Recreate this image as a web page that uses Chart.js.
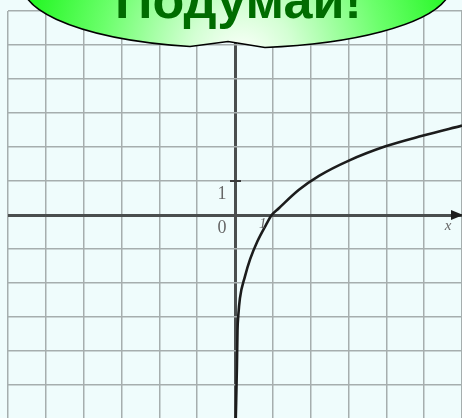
<!DOCTYPE html>
<html>
<head>
<meta charset="utf-8">
<script src="https://cdn.jsdelivr.net/npm/chart.js@4/dist/chart.umd.min.js"></script>
<style>
  html, body { margin: 0; padding: 0; overflow: hidden; background: #effcfc; }
  canvas { display: block; }
</style>
</head>
<body>
<canvas id="grafico" width="462" height="420"></canvas>
<script>
// punti (x, y)
var punti_x = [0.02, 0.05, 0.066, 0.087, 0.13, 0.26, 0.40, 0.59, 0.81, 0.97, 1.16, 1.69, 2.22, 3.01, 3.98, 4.95, 6.0];
var punti_y = [-6, -4.5, -3.4, -2.96, -2.45, -1.82, -1.3, -0.78, -0.31, 0, 0.2, 0.74, 1.15, 1.6, 2.02, 2.33, 2.63];
var limiti_x = [-6, 6];
var limiti_y = [-6, 6];
var testo_nuvola = 'Подумай!';

var dati = [];
for (var i = 0; i < punti_x.length; i++) {
  dati.push({x: punti_x[i], y: punti_y[i]});
}

function coloreGriglia(ctx) {
  return ctx.tick && ctx.tick.value === 0 ? '#4a4e4e' : '#a6aeae';
}
function spessoreGriglia(ctx) {
  return ctx.tick && ctx.tick.value === 0 ? 3 : 1.5;
}

// sfondo, etichette, freccia e nuvoletta
var decorazioni = {
  id: 'decorazioni',
  beforeDraw: function(chart) {
    var c = chart.ctx;
    c.save();
    c.fillStyle = '#effcfc';
    c.fillRect(0, 0, chart.width, chart.height);
    c.restore();
  },
  afterDraw: function(chart) {
    var c = chart.ctx;
    var sx = chart.scales.x;
    var sy = chart.scales.y;
    var x0 = sx.getPixelForValue(0);
    var y0 = sy.getPixelForValue(0);
    var y1 = sy.getPixelForValue(1);
    var x1 = sx.getPixelForValue(1);
    c.save();
    // tacca su y = 1
    c.strokeStyle = '#3a3a3a';
    c.lineWidth = 2;
    c.beginPath();
    c.moveTo(x0 - 5, y1);
    c.lineTo(x0 + 6, y1);
    c.stroke();
    // freccia asse x
    c.fillStyle = '#1e1e1e';
    c.beginPath();
    c.moveTo(chart.width - 11, y0 - 5);
    c.lineTo(chart.width + 1, y0);
    c.lineTo(chart.width - 11, y0 + 5);
    c.closePath();
    c.fill();
    // etichette
    c.fillStyle = '#666666';
    c.font = '18px "Liberation Serif"';
    c.textAlign = 'center';
    c.textBaseline = 'middle';
    c.fillText('1', x0 - 13, y1 + 13);
    c.fillText('0', x0 - 13, y0 + 13);
    c.font = 'italic 15px "Liberation Serif"';
    c.fillText('1', x1 - 10, y0 + 9);
    c.fillText('x', chart.width - 14, y0 + 11);

    // nuvoletta
    var cx = 237, cy = -14, rx = 214, ry = 62;
    c.beginPath();
    c.ellipse(cx, cy, rx, ry, 0, 1.792, 1.44 + 2 * Math.PI, false);
    c.lineTo(228, 41.5);
    c.closePath();
    var grad = c.createRadialGradient(242, 58, 0, 242, 58, 235);
    grad.addColorStop(0, '#ffffff');
    grad.addColorStop(0.22, '#d4ffd4');
    grad.addColorStop(0.6, '#6cff6c');
    grad.addColorStop(1, '#14f514');
    c.fillStyle = grad;
    c.fill();
    c.strokeStyle = '#000000';
    c.lineWidth = 1.6;
    c.stroke();
    // testo
    c.font = 'bold 50px "Liberation Sans"';
    var larghezza = c.measureText(testo_nuvola).width;
    var dimensione = 50 * 247 / larghezza;
    c.font = 'bold ' + dimensione.toFixed(1) + 'px "Liberation Sans"';
    c.fillStyle = '#006c00';
    c.textAlign = 'left';
    c.textBaseline = 'alphabetic';
    c.fillText(testo_nuvola, 115, 17.5);
    c.restore();
  }
};

var grafico = new Chart(document.getElementById('grafico'), {
  type: 'scatter',
  data: {
    datasets: [{
      data: dati,
      showLine: true,
      borderColor: '#1c1c1c',
      borderWidth: 2.6,
      pointRadius: 0,
      cubicInterpolationMode: 'monotone',
      fill: false
    }]
  },
  options: {
    responsive: false,
    animation: false,
    layout: { padding: { left: 8, top: 11, right: 0, bottom: 1 } },
    plugins: { legend: { display: false }, tooltip: { enabled: false } },
    scales: {
      x: {
        type: 'linear',
        min: limiti_x[0],
        max: limiti_x[1],
        ticks: { display: false, stepSize: 1 },
        grid: { color: coloreGriglia, lineWidth: spessoreGriglia, drawTicks: false },
        border: { display: false }
      },
      y: {
        type: 'linear',
        min: limiti_y[0],
        max: limiti_y[1],
        ticks: { display: false, stepSize: 1 },
        grid: { color: coloreGriglia, lineWidth: spessoreGriglia, drawTicks: false },
        border: { display: false }
      }
    }
  },
  plugins: [decorazioni]
});
</script>
</body>
</html>
